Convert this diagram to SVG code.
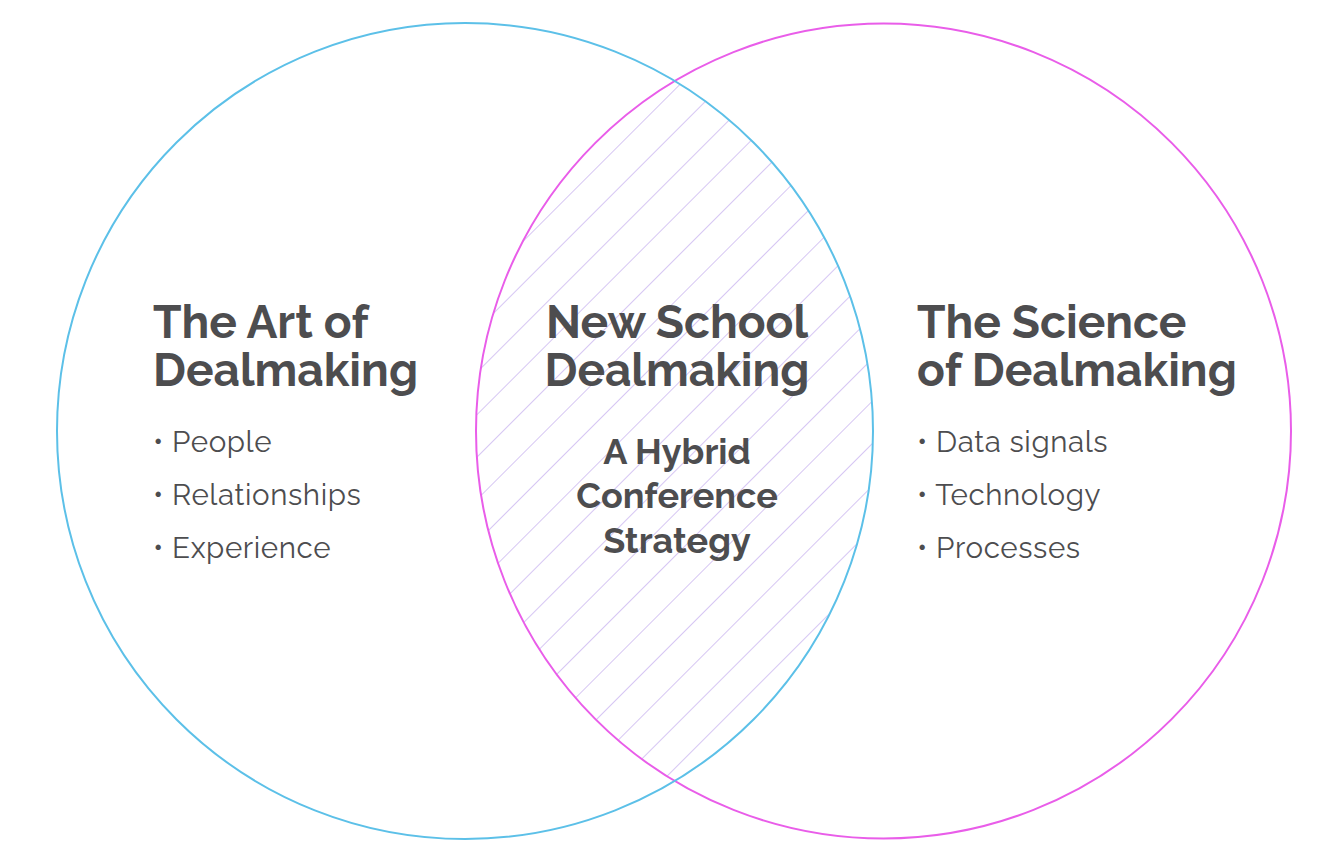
<svg xmlns="http://www.w3.org/2000/svg" width="1344" height="860" viewBox="0 0 1344 860">
<style>
.t{font-family:Raleway,"Open Sans","Liberation Sans",sans-serif;font-weight:700;fill:#4d4d4f;font-size:46px}
.s{font-family:Raleway,"Open Sans","Liberation Sans",sans-serif;font-weight:700;fill:#4d4d4f;font-size:36px}
.b{font-family:Raleway,"Open Sans","Liberation Sans",sans-serif;fill:#4d4d4f;font-size:29.5px;letter-spacing:0.6px}
</style>
<defs>
<pattern id="h" width="30" height="30" patternUnits="userSpaceOnUse" patternTransform="rotate(-45)">
<line x1="0" y1="0" x2="30" y2="0" stroke="#d2c0f2" stroke-width="1.8"/>
</pattern>
<clipPath id="c"><circle cx="465" cy="431" r="408"/></clipPath>
</defs>
<rect width="1344" height="860" fill="#fff"/>
<g id="lens"><circle cx="883.5" cy="431" r="407.5" fill="url(#h)" clip-path="url(#c)"/></g>
<g id="right"><circle cx="883.5" cy="431" r="407.5" fill="none" stroke="#e95de9" stroke-width="2"/>
<text class="t" x="917" y="338">The Science</text>
<text class="t" x="917" y="386">of Dealmaking</text>
<text class="b" x="917" y="452">• Data signals</text>
<text class="b" x="917" y="505">• Technology</text>
<text class="b" x="917" y="558">• Processes</text></g>
<g id="left"><circle cx="465" cy="431" r="408" fill="none" stroke="#5cc0e8" stroke-width="2"/>
<text class="t" x="153" y="338">The Art of</text>
<text class="t" x="153" y="386">Dealmaking</text>
<text class="b" x="153" y="452">• People</text>
<text class="b" x="153" y="505">• Relationships</text>
<text class="b" x="153" y="558">• Experience</text></g>
<g id="center" text-anchor="middle">
<text class="t" x="677" y="338">New School</text>
<text class="t" x="677" y="386">Dealmaking</text>
<text class="s" x="677" y="464">A Hybrid</text>
<text class="s" x="677" y="508">Conference</text>
<text class="s" x="677" y="553">Strategy</text></g>
</svg>
